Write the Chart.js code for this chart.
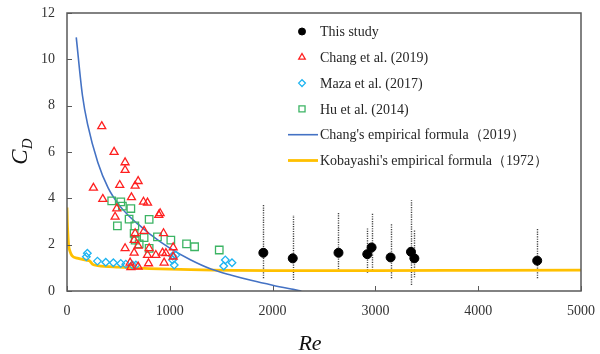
<!DOCTYPE html>
<html>
<head>
<meta charset="utf-8">
<script src="https://cdn.jsdelivr.net/npm/chart.js@4.4.0/dist/chart.umd.min.js"></script>
<style>
  html, body { margin: 0; padding: 0; background: #fff; }
</style>
</head>
<body>
<canvas id="chart" width="600" height="354"></canvas>
<script>
// This study (with min/max range shown as dotted bars)
const studyRe   = [1910, 2196, 2641, 2921, 2963, 3148, 3346, 3379, 4574];
const studyCd   = [1.65, 1.41, 1.65, 1.59, 1.88, 1.45, 1.69, 1.41, 1.31];
const studyLow  = [0.55, 0.47, 0.83, 0.79, 0.90, 0.55, 0.26, 0.59, 0.55];
const studyHigh = [3.75, 3.28, 3.38, 2.70, 3.38, 2.89, 3.92, 2.66, 2.70];

// Chang et al. (2019)
const changRe = [338, 458, 565, 565, 257, 513, 692, 663, 348, 627, 744, 783, 484, 468, 893, 906,
                 663, 750, 939, 653, 692, 565, 799, 1033, 653, 783, 864, 929, 962, 614, 793, 945, 1033, 621, 692];
const changCd = [7.11, 6.0, 5.55, 5.22, 4.45, 4.57, 4.74, 4.54, 3.97, 4.04, 3.85, 3.81, 3.56, 3.2, 3.28, 3.35,
                 2.49, 2.59, 2.49, 2.2, 1.95, 1.84, 1.84, 1.88, 1.65, 1.55, 1.55, 1.65, 1.63, 1.22, 1.19, 1.22, 1.48, 1.02, 1.05];

// Maza et al. (2017)
const mazaRe = [198, 188, 296, 377, 451, 523, 572, 637, 670, 1027, 1059, 1027, 1043, 1540, 1605, 1524];
const mazaCd = [1.63, 1.48, 1.29, 1.24, 1.22, 1.19, 1.16, 1.12, 1.12, 1.51, 1.55, 1.34, 1.12, 1.34, 1.22, 1.08];

// Hu et al. (2014)
const huRe = [435, 523, 539, 621, 799, 490, 604, 660, 653, 702, 799, 750, 880, 1010, 1163, 1241, 1481, 663];
const huCd = [3.89, 3.85, 3.66, 3.56, 3.09, 2.81, 3.1, 2.81, 2.49, 2.03, 1.84, 2.3, 2.34, 2.2, 2.03, 1.91, 1.77, 2.2];

// Chang's empirical formula (2019)
const changFitRe = [90, 150, 200, 300, 400, 500, 600, 700, 800, 1000, 1200, 1400, 1600, 1800, 2000, 2200, 2280];
const changFitCd = [10.95, 8.45, 7.2, 5.55, 4.45, 3.75, 3.25, 2.85, 2.48, 1.85, 1.35, 0.95, 0.68, 0.45, 0.25, 0.07, 0];

// Kobayashi's empirical formula (1972)
const kobaRe = [0, 3, 8, 15, 30, 50, 100, 200, 220, 250, 300, 500, 800, 1200, 2000, 3000, 4000, 5000];
const kobaCd = [3.6, 3.0, 2.5, 2.0, 1.7, 1.52, 1.42, 1.32, 1.3, 1.15, 1.1, 1.03, 0.97, 0.92, 0.88, 0.88, 0.89, 0.9];

const xTicks = [0, 1000, 2000, 3000, 4000, 5000];
const yTicks = [0, 2, 4, 6, 8, 10, 12];

const toPoints = (xs, ys) => xs.map((x, i) => ({ x: x, y: ys[i] }));

const SERIF = '"Liberation Serif", "Times New Roman", serif';

// Frame, inward ticks, error bars, axis titles and legend
const decor = {
    id: 'decor',
    beforeDatasetsDraw(chart) {
        const { ctx, scales: { x, y } } = chart;
        ctx.save();
        ctx.strokeStyle = '#444';
        ctx.lineWidth = 1.4;
        ctx.setLineDash([1.2, 1.2]);
        studyRe.forEach((re, i) => {
            const px = Math.round(x.getPixelForValue(re)) + 0.5;
            ctx.beginPath();
            ctx.moveTo(px, y.getPixelForValue(studyLow[i]));
            ctx.lineTo(px, y.getPixelForValue(studyHigh[i]));
            ctx.stroke();
        });
        ctx.restore();
    },
    afterDraw(chart) {
        const { ctx, chartArea: a, scales: { x, y } } = chart;
        ctx.save();
        // box
        ctx.strokeStyle = '#595959';
        ctx.lineWidth = 1.5;
        ctx.strokeRect(a.left, a.top, a.right - a.left, a.bottom - a.top);
        // inward ticks
        ctx.lineWidth = 1;
        ctx.beginPath();
        yTicks.forEach(v => {
            const py = Math.round(y.getPixelForValue(v)) + 0.5;
            ctx.moveTo(a.left, py);
            ctx.lineTo(a.left + 5, py);
        });
        xTicks.forEach(v => {
            const px = Math.round(x.getPixelForValue(v)) + 0.5;
            ctx.moveTo(px, a.bottom);
            ctx.lineTo(px, a.bottom - 5);
        });
        ctx.stroke();

        // axis titles
        ctx.fillStyle = '#111';
        ctx.font = 'italic 22px ' + SERIF;
        ctx.textAlign = 'center';
        ctx.textBaseline = 'alphabetic';
        ctx.fillText('Re', 310, 350);

        ctx.translate(27, 152);
        ctx.rotate(-Math.PI / 2);
        ctx.textAlign = 'left';
        ctx.font = 'italic 23px ' + SERIF;
        const cw = ctx.measureText('C').width;
        ctx.fillText('C', -cw / 2 - 5, 0);
        ctx.font = 'italic 15px ' + SERIF;
        ctx.fillText('D', cw / 2 - 5, 5);
        ctx.setTransform(1, 0, 0, 1, 0, 0);

        // legend
        const rowY0 = 31.5, rowH = 25.8;
        ctx.font = '14px ' + SERIF;
        ctx.textBaseline = 'middle';
        ctx.textAlign = 'left';
        chart.data.datasets.forEach((ds, i) => {
            const ly = rowY0 + i * rowH;
            if (ds.showLine) {
                ctx.strokeStyle = ds.borderColor;
                ctx.lineWidth = ds.borderWidth;
                ctx.beginPath();
                ctx.moveTo(288, ly);
                ctx.lineTo(318, ly);
                ctx.stroke();
            } else {
                ctx.fillStyle = ds.pointBackgroundColor;
                ctx.strokeStyle = ds.pointBorderColor;
                ctx.lineWidth = ds.pointBorderWidth;
                Chart.helpers.drawPoint(ctx, {
                    pointStyle: ds.pointStyle,
                    radius: ds.legendRadius,
                    rotation: 0,
                    borderWidth: ds.pointBorderWidth
                }, 302, ly);
            }
            ctx.fillStyle = '#262626';
            ctx.fillText(ds.label, 320, ly + 1);
        });
        ctx.restore();
    }
};

new Chart(document.getElementById('chart'), {
    type: 'scatter',
    data: {
        datasets: [
            {
                label: 'This study',
                data: toPoints(studyRe, studyCd),
                pointStyle: 'circle',
                pointRadius: 4.5,
                legendRadius: 3.5,
                pointBackgroundColor: '#000',
                pointBorderColor: '#000',
                pointBorderWidth: 1
            },
            {
                label: 'Chang et al. (2019)',
                data: toPoints(changRe, changCd),
                pointStyle: 'triangle',
                pointRadius: 4.6,
                legendRadius: 3.8,
                pointBackgroundColor: 'rgba(255,255,255,0)',
                pointBorderColor: '#FF2020',
                pointBorderWidth: 1.3
            },
            {
                label: 'Maza et al. (2017)',
                data: toPoints(mazaRe, mazaCd),
                pointStyle: 'rectRot',
                pointRadius: 3.8,
                legendRadius: 3.4,
                pointBackgroundColor: 'rgba(255,255,255,0)',
                pointBorderColor: '#1EB4F0',
                pointBorderWidth: 1.3
            },
            {
                label: 'Hu et al. (2014)',
                data: toPoints(huRe, huCd),
                pointStyle: 'rect',
                pointRadius: 5.3,
                legendRadius: 4.3,
                pointBackgroundColor: 'rgba(255,255,255,0)',
                pointBorderColor: '#3CB464',
                pointBorderWidth: 1.3
            },
            {
                label: "Chang's empirical formula（2019）",
                data: toPoints(changFitRe, changFitCd),
                showLine: true,
                pointRadius: 0,
                borderColor: '#4472C4',
                borderWidth: 1.6,
                cubicInterpolationMode: 'monotone'
            },
            {
                label: "Kobayashi's empirical formula（1972）",
                data: toPoints(kobaRe, kobaCd),
                showLine: true,
                pointRadius: 0,
                borderColor: '#FFC000',
                borderWidth: 2.8,
                cubicInterpolationMode: 'monotone'
            }
        ]
    },
    options: {
        responsive: false,
        animation: false,
        layout: { padding: { left: 0, right: 19, top: 13, bottom: 0 } },
        plugins: {
            legend: { display: false },
            tooltip: { enabled: false }
        },
        scales: {
            x: {
                type: 'linear',
                min: 0,
                max: 5000,
                afterBuildTicks: s => { s.ticks = xTicks.map(v => ({ value: v })); },
                afterFit: s => { s.height = 63; s.paddingRight = 0; s.paddingLeft = 0; },
                grid: { display: false, drawTicks: false },
                border: { display: false },
                ticks: {
                    color: '#333', padding: 12, maxRotation: 0,
                    font: { family: SERIF, size: 14 },
                    callback: v => String(v)
                }
            },
            y: {
                type: 'linear',
                min: 0,
                max: 12,
                afterBuildTicks: s => { s.ticks = yTicks.map(v => ({ value: v })); },
                afterFit: s => { s.width = 67; s.paddingTop = 0; s.paddingBottom = 0; },
                grid: { display: false, drawTicks: false },
                border: { display: false },
                ticks: {
                    color: '#333', padding: 12,
                    font: { family: SERIF, size: 14 },
                    callback: v => String(v)
                }
            }
        }
    },
    plugins: [decor]
});
</script>
</body>
</html>
